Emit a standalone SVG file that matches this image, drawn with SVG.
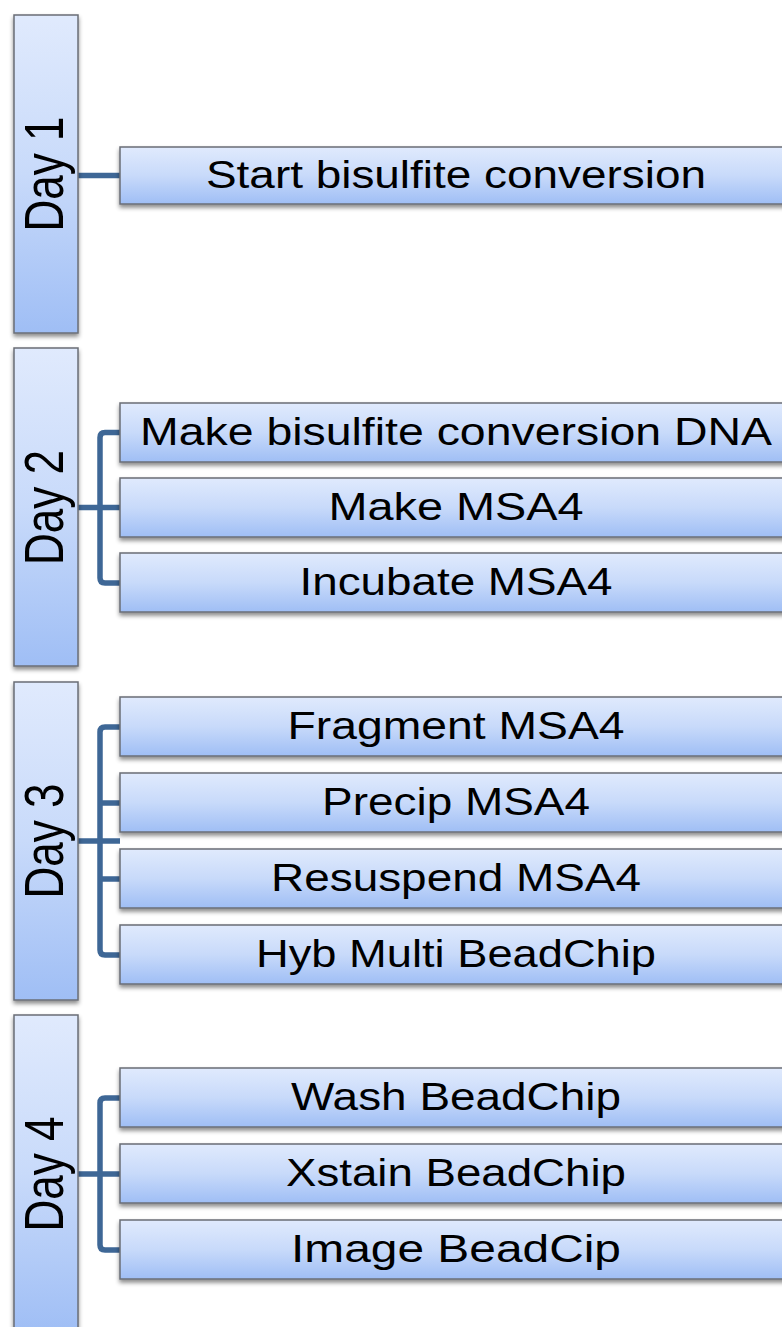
<svg xmlns="http://www.w3.org/2000/svg" width="782" height="1327" viewBox="0 0 782 1327">
<defs>
<linearGradient id="g" x1="0" y1="0" x2="0" y2="1">
<stop offset="0" stop-color="#e0eafd"/>
<stop offset="0.5" stop-color="#c8dafa"/>
<stop offset="1" stop-color="#9fbef5"/>
</linearGradient>
<filter id="sh" x="-10%" y="-10%" width="120%" height="130%">
<feDropShadow dx="0" dy="3" stdDeviation="2.2" flood-color="#000" flood-opacity="0.45"/>
</filter>
</defs>
<style>
.box{fill:url(#g);stroke:#6a6e76;stroke-width:1.5;filter:url(#sh)}
.day{font-family:"Liberation Sans",Arial,sans-serif;font-size:44px;fill:#000;text-anchor:middle}
.t{font-family:"Liberation Sans",Arial,sans-serif;font-size:38px;fill:#000;text-anchor:middle}
.c{fill:none;stroke:#3e6796;stroke-width:5.5;stroke-linejoin:round}
</style>
<g id="connectors">
<path class="c" d="M78,175.5 H120"/>
<path class="c" d="M78,507.5 H120 M120,432.5 H105 Q100,432.5 100,437.5 V578 Q100,583 105,583 H120"/>
<path class="c" d="M78,841 H120 M120,727 H105 Q100,727 100,732 V950 Q100,955 105,955 H120 M100,803 H120 M100,879 H120"/>
<path class="c" d="M78,1174 H120 M120,1098 H105 Q100,1098 100,1103 V1245 Q100,1250 105,1250 H120"/>
</g>
<g id="day1"><rect class="box" x="14" y="15" width="64" height="318"/><text class="day" transform="translate(63,174) rotate(-90) scale(1,1.27)">Day 1</text></g>
<g id="day2"><rect class="box" x="14" y="348" width="64" height="318"/><text class="day" transform="translate(63,507.5) rotate(-90) scale(1,1.27)">Day 2</text></g>
<g id="day3"><rect class="box" x="14" y="682" width="64" height="318"/><text class="day" transform="translate(63,841) rotate(-90) scale(1,1.27)">Day 3</text></g>
<g id="day4"><rect class="box" x="14" y="1015" width="64" height="318"/><text class="day" transform="translate(63,1174) rotate(-90) scale(1,1.27)">Day 4</text></g>
<g id="t1"><rect class="box" x="120" y="147" width="690" height="57"/><text class="t" x="456" y="188" textLength="500" lengthAdjust="spacingAndGlyphs">Start bisulfite conversion</text></g>
<g id="t2"><rect class="box" x="120" y="403" width="690" height="59"/><text class="t" x="456" y="445" textLength="632" lengthAdjust="spacingAndGlyphs">Make bisulfite conversion DNA</text></g>
<g id="t3"><rect class="box" x="120" y="478" width="690" height="59"/><text class="t" x="456" y="520" textLength="255" lengthAdjust="spacingAndGlyphs">Make MSA4</text></g>
<g id="t4"><rect class="box" x="120" y="553" width="690" height="59"/><text class="t" x="456" y="595" textLength="313" lengthAdjust="spacingAndGlyphs">Incubate MSA4</text></g>
<g id="t5"><rect class="box" x="120" y="697" width="690" height="59"/><text class="t" x="456" y="739" textLength="337" lengthAdjust="spacingAndGlyphs">Fragment MSA4</text></g>
<g id="t6"><rect class="box" x="120" y="773" width="690" height="59"/><text class="t" x="456" y="815" textLength="268" lengthAdjust="spacingAndGlyphs">Precip MSA4</text></g>
<g id="t7"><rect class="box" x="120" y="849" width="690" height="59"/><text class="t" x="456" y="891" textLength="370" lengthAdjust="spacingAndGlyphs">Resuspend MSA4</text></g>
<g id="t8"><rect class="box" x="120" y="925" width="690" height="59"/><text class="t" x="456" y="967" textLength="400" lengthAdjust="spacingAndGlyphs">Hyb Multi BeadChip</text></g>
<g id="t9"><rect class="box" x="120" y="1068" width="690" height="59"/><text class="t" x="456" y="1110" textLength="330" lengthAdjust="spacingAndGlyphs">Wash BeadChip</text></g>
<g id="t10"><rect class="box" x="120" y="1144" width="690" height="59"/><text class="t" x="456" y="1186" textLength="340" lengthAdjust="spacingAndGlyphs">Xstain BeadChip</text></g>
<g id="t11"><rect class="box" x="120" y="1220" width="690" height="59"/><text class="t" x="456" y="1262" textLength="330" lengthAdjust="spacingAndGlyphs">Image BeadCip</text></g>
</svg>
